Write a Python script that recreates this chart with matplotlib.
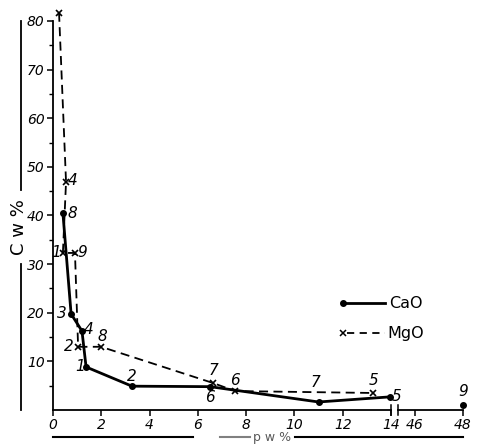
import matplotlib.pyplot as plt
from matplotlib.lines import Line2D

# CaO series (solid line, dots)
cao_x = [0.41, 0.75, 1.20, 1.37, 3.27, 6.50, 11.0, 13.96]
cao_y = [40.5, 19.75, 16.25, 8.85, 4.9, 4.8, 1.65, 2.7]
cao_lab = ['8', '3', '4', '1', '2', '6', '7', '5']
# CaO point beyond the axis break
cao_far_x = [48.0]
cao_far_y = [1.0]
cao_far_lab = ['9']

# MgO series (dashed line, crosses)
mgo_x = [0.25, 0.54, 0.41, 0.91, 1.04, 1.99, 6.63, 7.54, 13.26]
mgo_y = [81.7, 46.9, 32.3, 32.3, 13.0, 13.0, 5.55, 3.9, 3.5]
mgo_lab = ['3', '4', '1', '9', '2', '8', '7', '6', '5']

x_ticks_left = [0, 2, 4, 6, 8, 10, 12, 14]
x_ticks_right = [46, 48]
y_ticks = [10, 20, 30, 40, 50, 60, 70, 80]

# label offsets in pixels (dx right, dy down)
cao_off = [(9, 0), (-9, 0), (7, -1), (-6, 0), (0, -10), (0, 11), (-3, -19), (7, 0)]
mgo_off = [(9, 0), (7, -1), (-7, 0), (7, 0), (-9, 0), (1, -10), (0, -13), (0, -11), (0, -12)]

W, H = 478, 444
fig = plt.figure(figsize=(W / 100, H / 100), dpi=100)
ax1 = fig.add_axes([53 / W, 1 - 410 / H, 338 / W, 389 / H])
ax2 = fig.add_axes([398 / W, 1 - 410 / H, 65 / W, 389 / H], sharey=ax1)

lw_axis = 1.3
for ax in (ax1, ax2):
    ax.spines['top'].set_visible(False)
    ax.spines['right'].set_visible(False)
    ax.spines['bottom'].set_linewidth(lw_axis)
    ax.spines['left'].set_linewidth(lw_axis)
    ax.patch.set_alpha(0)
ax2.spines['left'].set_visible(False)

ax1.plot(cao_x, cao_y, '-', color='black', lw=2.0, marker='o', ms=4, clip_on=False, zorder=3)
ax1.plot(mgo_x, mgo_y, '--', color='black', lw=1.3, dashes=(5, 3), marker='x', ms=5, mew=1.2,
         clip_on=False, zorder=3)
ax2.plot(cao_far_x, cao_far_y, 'o', color='black', ms=4, clip_on=False)

tfont = dict(fontsize=11, style='italic', ha='center', va='center')
for x, y, t, (dx, dy) in zip(cao_x, cao_y, cao_lab, cao_off):
    ax1.annotate(t, (x, y), xytext=(dx * 0.72, -dy * 0.72), textcoords='offset points', **tfont)
for x, y, t, (dx, dy) in zip(mgo_x, mgo_y, mgo_lab, mgo_off):
    ax1.annotate(t, (x, y), xytext=(dx * 0.72, -dy * 0.72), textcoords='offset points', **tfont)
for x, y, t in zip(cao_far_x, cao_far_y, cao_far_lab):
    ax2.annotate(t, (x, y), xytext=(0, 9.5), textcoords='offset points', annotation_clip=False, **tfont)

ax1.set_xlim(0, 14)
ax1.set_ylim(0, 80)
ax2.set_xlim(45.29, 48.0)

ax1.set_xticks(x_ticks_left)
ax1.set_xticklabels([str(v) for v in x_ticks_left], style='italic', fontsize=10)
ax2.set_xticks(x_ticks_right)
ax2.set_xticklabels([str(v) for v in x_ticks_right], style='italic', fontsize=10)
ax1.set_yticks(y_ticks)
ax1.set_yticklabels([str(v) for v in y_ticks], style='italic', fontsize=10)
ax1.set_yticks(list(range(5, 80, 10)), minor=True)
for ax in (ax1, ax2):
    ax.tick_params(axis='both', which='major', length=4, width=1.1, pad=2, direction='out')
    ax.tick_params(axis='both', which='minor', length=3, width=1.0, direction='out')
ax2.tick_params(axis='y', left=False, labelleft=False, which='both')

# break marks
for px in (391, 398):
    fig.add_artist(Line2D([px / W, px / W], [1 - 405 / H, 1 - 415 / H], color='black', lw=1.1))

# legend, drawn by hand: marker only at the left end of each sample line
def fx(px):
    return px / W

def fy(py):
    return 1 - py / H

fig.add_artist(Line2D([fx(343), fx(385)], [fy(303), fy(303)], color='black', lw=2.0))
fig.add_artist(Line2D([fx(343)], [fy(303)], color='black', marker='o', ms=4, ls='none'))
fig.text(fx(389), fy(303), 'CaO', ha='left', va='center', fontsize=11.5)
fig.add_artist(Line2D([fx(347), fx(385)], [fy(333), fy(333)], color='black', lw=1.3, ls='--', dashes=(4, 3)))
fig.add_artist(Line2D([fx(343)], [fy(333)], color='black', marker='x', ms=4, mew=1.1, ls='none'))
fig.text(fx(387), fy(333), 'MgO', ha='left', va='center', fontsize=11.5)

# y axis label with rules
fig.add_artist(Line2D([fx(21), fx(21)], [fy(21), fy(190)], color='black', lw=1.3))
fig.add_artist(Line2D([fx(21), fx(21)], [fy(264), fy(410)], color='black', lw=1.3))
fig.text(fx(19), fy(227), 'C w %', rotation=90, ha='center', va='center', fontsize=13)

# x axis label with rules (cut by bottom edge)
fig.add_artist(Line2D([fx(53), fx(193)], [fy(437), fy(437)], color='black', lw=1.5))
fig.add_artist(Line2D([fx(220), fx(250)], [fy(437), fy(437)], color='0.5', lw=1.5))
fig.add_artist(Line2D([fx(295), fx(463)], [fy(437), fy(437)], color='black', lw=1.5))
fig.text(fx(272), fy(437), 'p w %', ha='center', va='center', fontsize=9, color='0.35')

fig.savefig('out.png', dpi=100)
